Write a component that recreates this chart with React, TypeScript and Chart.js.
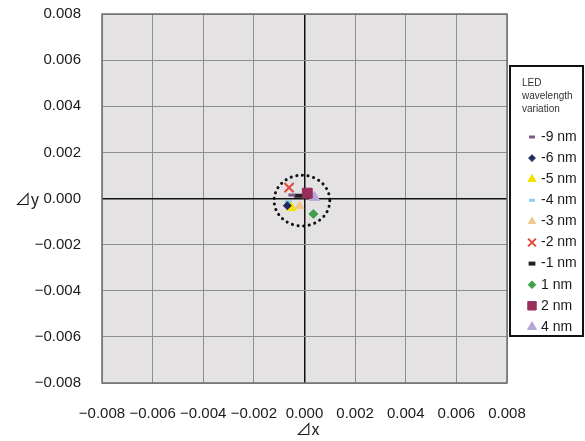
import React, { useEffect, useRef } from 'react';
import { Chart, registerables } from 'chart.js';
import { drawPoint } from 'chart.js/helpers';

Chart.register(...registerables);

// ---- data ----
const seriesLabels = ['-9 nm', '-6 nm', '-5 nm', '-4 nm', '-3 nm', '-2 nm', '-1 nm', '1 nm', '2 nm', '4 nm'];
const dxValues = [-0.0005, -0.00068, -0.00052, -0.00064, -0.0002, -0.00061, -0.00025, 0.00035, 0.00011, 0.00039];
const dyValues = [0.00015, -0.00031, -0.0004, -0.00014, -0.00033, 0.00047, 0.00012, -0.00067, 0.00023, 0.00005];
const axisTicks = [-0.008, -0.006, -0.004, -0.002, 0, 0.002, 0.004, 0.006, 0.008];
const legendTitle = ['LED', 'wavelength', 'variation'];
const xTitle = '⊿x';
const yTitle = '⊿y';
const circleCenterX = -0.0001;
const circleCenterY = -0.00009;
const circleRadius = 0.0011;

// ---- styles ----
const markerStyles = ['line', 'rectRot', 'triangle', 'line', 'triangle', 'crossRot', 'line', 'rectRot', 'rect', 'triangle'];
const markerColors = ['#7a5a8a', '#1f2a5e', '#f4e300', '#8fd0ee', '#f0c88e', '#e2483c', '#222222', '#3f9f4c', '#9a2c5e', '#b8a5d8'];
const markerRadii = [3.5, 4, 5.5, 3.5, 5, 6.5, 4, 4.5, 7, 6];
const markerBorders = [3, 1, 1, 3, 1, 2, 4, 1, 1, 1];

const FONT = "'Liberation Sans', Arial, Helvetica, sans-serif";
const TITLE_FONT = "'Noto Sans CJK JP', 'Liberation Sans', sans-serif";

const fmt = (v: number) => (v < -1e-12 ? '\u2212' : '') + Math.abs(v).toFixed(3);

const decorPlugin = {
  id: 'decor',
  beforeDraw(chart: any) {
    const { ctx, chartArea: a, width, height } = chart;
    ctx.save();
    ctx.fillStyle = '#ffffff';
    ctx.fillRect(0, 0, width, height);
    ctx.fillStyle = '#e4e2e2';
    ctx.fillRect(a.left, a.top, a.right - a.left, a.bottom - a.top);
    ctx.restore();
  },
  beforeDatasetsDraw(chart: any) {
    const { ctx, chartArea: a, scales } = chart;
    ctx.save();
    ctx.strokeStyle = '#707070';
    ctx.lineWidth = 1.5;
    ctx.strokeRect(a.left, a.top, a.right - a.left, a.bottom - a.top);
    const cx = scales.x.getPixelForValue(circleCenterX);
    const cy = scales.y.getPixelForValue(circleCenterY);
    const rx = Math.abs(scales.x.getPixelForValue(circleCenterX + circleRadius) - cx);
    const ry = Math.abs(scales.y.getPixelForValue(circleCenterY + circleRadius) - cy);
    ctx.beginPath();
    ctx.ellipse(cx, cy, rx, ry, 0, 0, Math.PI * 2);
    ctx.setLineDash([0.1, 5.6]);
    ctx.lineCap = 'round';
    ctx.lineWidth = 3;
    ctx.strokeStyle = '#111111';
    ctx.stroke();
    ctx.restore();
  },
  afterDraw(chart: any) {
    const { ctx, chartArea: a, scales } = chart;
    ctx.save();
    ctx.fillStyle = '#1a1a1a';
    ctx.font = `16px ${TITLE_FONT}`;
    ctx.textBaseline = 'middle';
    ctx.textAlign = 'right';
    ctx.fillText(yTitle, 39, scales.y.getPixelForValue(0));
    ctx.textAlign = 'center';
    ctx.fillText(xTitle, (a.left + a.right) / 2 + 3, 429);

    const bx = 510, by = 66, bw = 73, bh = 270;
    ctx.fillStyle = '#ffffff';
    ctx.fillRect(bx, by, bw, bh);
    ctx.strokeStyle = '#111111';
    ctx.lineWidth = 2;
    ctx.strokeRect(bx, by, bw, bh);
    ctx.fillStyle = '#333333';
    ctx.font = `10px ${FONT}`;
    ctx.textAlign = 'left';
    legendTitle.forEach((t, i) => ctx.fillText(t, 522, 83 + i * 13));

    chart.data.datasets.forEach((ds: any, i: number) => {
      const y = 137 + i * 21.1;
      ctx.save();
      ctx.fillStyle = ds.backgroundColor;
      ctx.strokeStyle = ds.borderColor;
      ctx.lineWidth = ds.pointBorderWidth;
      drawPoint(ctx, { pointStyle: ds.pointStyle, radius: ds.pointRadius * 0.85, borderWidth: ds.pointBorderWidth, rotation: 0 } as any, 532, y);
      ctx.restore();
      ctx.fillStyle = '#1a1a1a';
      ctx.font = `14px ${FONT}`;
      ctx.textAlign = 'left';
      ctx.fillText(ds.label, 541, y);
    });
    ctx.restore();
  },
};

export default function App() {
  const ref = useRef<HTMLCanvasElement>(null);
  useEffect(() => {
    if (!ref.current) return;
    const datasets = seriesLabels.map((label, i) => ({
      label,
      data: [{ x: dxValues[i], y: dyValues[i] }],
      pointStyle: markerStyles[i],
      pointRadius: markerRadii[i],
      pointBorderWidth: markerBorders[i],
      backgroundColor: markerColors[i],
      borderColor: markerColors[i],
    }));
    const gridColor = (c: any) => (Math.abs(c.tick?.value ?? 1) < 1e-12 ? '#111111' : '#8e8e8e');
    const gridWidth = (c: any) => (Math.abs(c.tick?.value ?? 1) < 1e-12 ? 1.5 : 1);
    const tickFont = { family: FONT, size: 15 };
    const chart = new Chart(ref.current, {
      type: 'scatter',
      data: { datasets } as any,
      plugins: [decorPlugin],
      options: {
        animation: false,
        responsive: false,
        devicePixelRatio: 1,
        layout: { padding: { left: 0, top: 0, right: 78, bottom: 0 } },
        plugins: { legend: { display: false }, tooltip: { enabled: false } },
        scales: {
          x: {
            type: 'linear',
            min: -0.008,
            max: 0.008,
            afterBuildTicks: (s: any) => { s.ticks = axisTicks.map((v) => ({ value: v })); },
            afterFit: (s: any) => { s.height = 58; },
            grid: { color: gridColor, lineWidth: gridWidth, drawTicks: false },
            border: { display: false },
            ticks: { padding: 22, font: tickFont, color: '#1a1a1a', maxRotation: 0, autoSkip: false, callback: (v: any) => fmt(Number(v)) },
          },
          y: {
            type: 'linear',
            min: -0.008,
            max: 0.008,
            afterBuildTicks: (s: any) => { s.ticks = axisTicks.map((v) => ({ value: v })); },
            afterFit: (s: any) => { s.width = 102; s.paddingTop = 14; },
            grid: { color: gridColor, lineWidth: gridWidth, drawTicks: false },
            border: { display: false },
            ticks: { padding: 21, font: tickFont, color: '#1a1a1a', autoSkip: false, callback: (v: any) => fmt(Number(v)) },
          },
        },
      } as any,
    });
    return () => chart.destroy();
  }, []);
  return (
    <div style={{ position: 'fixed', left: 0, top: 0, width: 585, height: 441, background: '#fff' }}>
      <canvas ref={ref} width={585} height={441} style={{ width: 585, height: 441, display: 'block' }} />
    </div>
  );
}
